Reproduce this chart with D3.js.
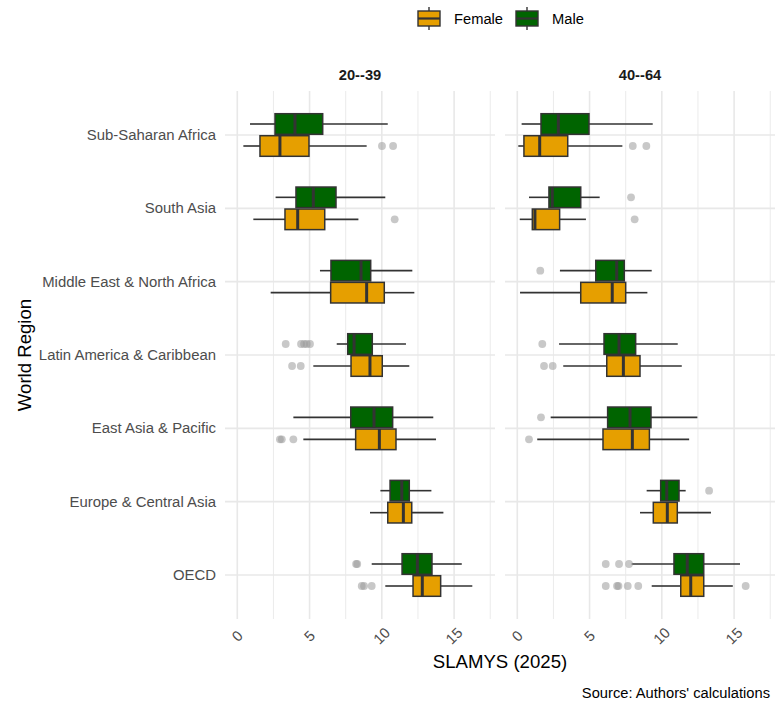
<!DOCTYPE html>
<html><head><meta charset="utf-8">
<script src="https://cdn.jsdelivr.net/npm/d3@7"></script>
<style>body{margin:0;background:#fff} svg{display:block} text{font-family:"Liberation Sans",Arial,Helvetica,sans-serif}</style>
</head><body><svg id="c" width="775" height="704"></svg>
<script>
// ---- data ----
const regions = ["Sub-Saharan Africa","South Asia","Middle East & North Africa","Latin America & Caribbean","East Asia & Pacific","Europe & Central Asia","OECD"];
const ageGroups = ["20--39","40--64"];
const sexes = ["Female","Male"];
const xTicks = [0,5,10,15];
const xMinor = [2.5,7.5,12.5,17.5];
// [lower whisker, Q1, median, Q3, upper whisker] per region
const young_female = [[0.42,1.57,2.95,4.96,8.95],[1.11,3.30,4.18,6.05,8.38],[2.31,6.46,8.95,10.17,12.25],[5.26,7.87,9.18,10.03,11.90],[4.57,8.19,9.83,10.98,13.75],[9.18,10.41,11.49,12.07,14.26],[10.24,12.16,12.80,14.07,16.26]];
const young_male = [[0.88,2.61,3.99,5.91,10.41],[2.65,4.06,5.26,6.83,10.24],[5.72,6.48,8.56,9.23,12.11],[6.88,7.64,8.08,9.34,11.67],[3.88,7.85,9.46,10.75,13.56],[9.90,10.57,11.38,11.90,13.43],[9.30,11.40,12.46,13.47,15.53]];
const old_female = [[0.07,0.46,1.55,3.49,7.27],[0.17,1.04,1.22,2.93,4.75],[0.19,4.39,6.57,7.50,9.00],[3.18,6.19,7.34,8.49,11.38],[1.38,5.93,7.96,9.14,11.89],[8.49,9.41,10.38,11.07,13.40],[9.30,11.31,12.00,12.90,14.91]];
const old_male = [[0.30,1.64,2.84,4.96,9.37],[0.81,2.19,2.42,4.39,5.70],[2.95,5.43,6.88,7.40,9.30],[2.89,6.00,7.04,8.19,11.10],[2.31,6.25,7.80,9.25,12.46],[8.95,9.92,10.34,11.19,11.65],[7.91,10.84,11.76,12.90,15.41]];
// outliers per region
const young_female_out = [[10.01,10.78],[10.89],[],[3.79,4.39],[2.95,3.08,3.88],[],[8.61,8.77,9.30]];
const young_male_out = [[],[],[],[3.35,4.41,4.62,4.80,5.03],[],[],[8.22,8.30]];
const old_female_out = [[7.99,8.93],[8.12],[],[1.85,2.45],[0.81],[],[6.12,6.90,7.00,7.64,8.37,15.80]];
const old_male_out = [[],[7.87],[1.59],[1.73],[1.64],[13.27],[6.12,7.04,7.73]];

const colors = {Female:"#E69F00", Male:"#006400"};

// ---- layout ----
const svg = d3.select("#c");
const panelTop = 91, panelBottom = 619;
const panels = [
  {age:ageGroups[0], x0:225, x1:495, data:{Female:young_female, Male:young_male}, out:{Female:young_female_out, Male:young_male_out}},
  {age:ageGroups[1], x0:505, x1:775, data:{Female:old_female, Male:old_male}, out:{Female:old_female_out, Male:old_male_out}}
];
const y = d3.scalePoint().domain(regions).range([135,575]);
const offset = {Male:-11, Female:11};
const boxH = 20.6;
const ink = "#333333";

panels.forEach(p => {
  const x = d3.scaleLinear().domain([-0.85,17.83]).range([p.x0,p.x1]);
  const g = svg.append("g");
  // grid
  g.selectAll(".minor").data(xMinor).join("line")
    .attr("x1",d=>x(d)).attr("x2",d=>x(d)).attr("y1",panelTop).attr("y2",panelBottom)
    .attr("stroke","#ebebeb").attr("stroke-width",1);
  g.selectAll(".major").data(xTicks).join("line")
    .attr("x1",d=>x(d)).attr("x2",d=>x(d)).attr("y1",panelTop).attr("y2",panelBottom)
    .attr("stroke","#e8e8e8").attr("stroke-width",1.6);
  g.selectAll(".hgrid").data(regions).join("line")
    .attr("x1",p.x0).attr("x2",p.x1).attr("y1",d=>y(d)).attr("y2",d=>y(d))
    .attr("stroke","#e8e8e8").attr("stroke-width",1.6);
  // strip label
  g.append("text").attr("x",(p.x0+p.x1)/2).attr("y",75).attr("text-anchor","middle")
    .attr("dominant-baseline","central").attr("font-size",14.7).attr("font-weight","bold")
    .attr("fill","#1a1a1a").text(p.age);
  // x tick labels
  g.selectAll(".tl").data(xTicks).join("text")
    .attr("transform",d=>`translate(${x(d)},636) rotate(-45)`)
    .attr("text-anchor","middle").attr("dominant-baseline","central")
    .attr("font-size",14.7).attr("fill","#4d4d4d").text(d=>d);
  // boxes
  sexes.forEach(s => {
    const rows = regions.map((r,i)=>({r, v:p.data[s][i], o:p.out[s][i]}));
    const bg = g.append("g");
    rows.forEach(d => {
      const cy = y(d.r) + offset[s];
      const [lo,q1,med,q3,hi] = d.v;
      bg.append("line").attr("x1",x(lo)).attr("x2",x(q1)).attr("y1",cy).attr("y2",cy).attr("stroke",ink).attr("stroke-width",1.6);
      bg.append("line").attr("x1",x(q3)).attr("x2",x(hi)).attr("y1",cy).attr("y2",cy).attr("stroke",ink).attr("stroke-width",1.6);
      bg.append("rect").attr("x",x(q1)).attr("y",cy-boxH/2).attr("width",x(q3)-x(q1)).attr("height",boxH)
        .attr("fill",colors[s]).attr("stroke",ink).attr("stroke-width",1.5);
      bg.append("line").attr("x1",x(med)).attr("x2",x(med)).attr("y1",cy-boxH/2).attr("y2",cy+boxH/2)
        .attr("stroke",ink).attr("stroke-width",3);
      bg.selectAll(null).data(d.o).join("circle")
        .attr("cx",v=>x(v)).attr("cy",cy).attr("r",3.9)
        .attr("fill","#9a9a9a").attr("fill-opacity",0.55);
    });
  });
});

// y axis labels
svg.append("g").selectAll("text").data(regions).join("text")
  .attr("x",216).attr("y",d=>y(d)).attr("text-anchor","end").attr("dominant-baseline","central")
  .attr("font-size",14.9).attr("fill","#4d4d4d").text(d=>d);

// axis titles
svg.append("text").attr("transform","translate(24,355) rotate(-90)").attr("text-anchor","middle")
  .attr("dominant-baseline","central").attr("font-size",18.6).attr("fill","#000").text("World Region");
svg.append("text").attr("x",500).attr("y",661).attr("text-anchor","middle")
  .attr("dominant-baseline","central").attr("font-size",18.6).attr("fill","#000").text("SLAMYS (2025)");
svg.append("text").attr("x",770).attr("y",693).attr("text-anchor","end")
  .attr("dominant-baseline","central").attr("font-size",14.7).attr("fill","#000").text("Source: Authors' calculations");

// legend
const legendItems = [{s:sexes[0], cx:429, tx:454},{s:sexes[1], cx:527, tx:552}];
const lg = svg.append("g");
legendItems.forEach(it => {
  const cy = 18.5;
  lg.append("line").attr("x1",it.cx).attr("x2",it.cx).attr("y1",cy-11.5).attr("y2",cy+11.5).attr("stroke",ink).attr("stroke-width",1.4);
  lg.append("rect").attr("x",it.cx-11).attr("y",cy-7.5).attr("width",22).attr("height",15)
    .attr("fill",colors[it.s]).attr("stroke",ink).attr("stroke-width",1.4);
  lg.append("line").attr("x1",it.cx-11).attr("x2",it.cx+11).attr("y1",cy).attr("y2",cy).attr("stroke",ink).attr("stroke-width",2.2);
  lg.append("text").attr("x",it.tx).attr("y",cy).attr("dominant-baseline","central")
    .attr("font-size",14.7).attr("fill","#000").text(it.s);
});
</script></body></html>
